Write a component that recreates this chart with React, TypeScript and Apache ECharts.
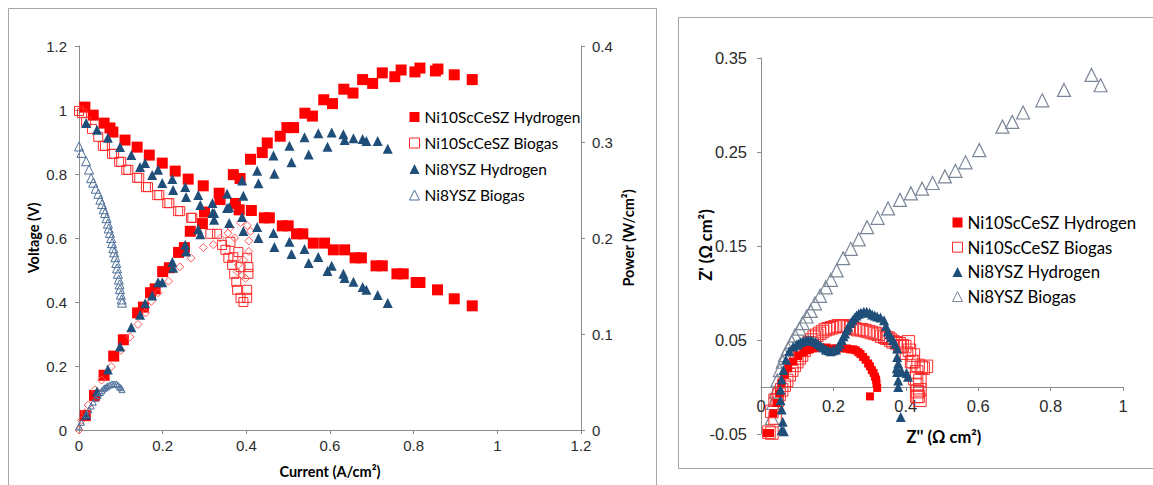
import React, { useEffect, useRef } from "react";
import * as echarts from "echarts";

// ---------- Left panel: current (A/cm2) vs voltage (V) and power (W/cm2) ----------
const legendNames = ["Ni10ScCeSZ Hydrogen", "Ni10ScCeSZ Biogas", "Ni8YSZ Hydrogen", "Ni8YSZ Biogas"];
const currentTicks = [0, 0.2, 0.4, 0.6, 0.8, 1, 1.2];

const scH2Volt = [[0.014,1.009],[0.034,0.984],[0.06,0.959],[0.074,0.944],[0.081,0.931],[0.11,0.906],[0.139,0.884],[0.168,0.859],[0.199,0.834],[0.23,0.809],[0.261,0.784],[0.297,0.763],[0.335,0.74],[0.374,0.708],[0.383,0.688],[0.412,0.686],[0.443,0.663],[0.455,0.663],[0.486,0.638],[0.5,0.638],[0.52,0.613],[0.535,0.613],[0.56,0.584],[0.587,0.584],[0.608,0.563],[0.635,0.563],[0.66,0.538],[0.675,0.538],[0.71,0.513],[0.725,0.513],[0.76,0.488],[0.775,0.488],[0.806,0.461],[0.815,0.461],[0.857,0.438],[0.897,0.41],[0.94,0.388]];
const scH2Power = [[0.015,0.015],[0.037,0.036],[0.06,0.057],[0.083,0.077],[0.106,0.094],[0.14,0.122],[0.154,0.128],[0.171,0.143],[0.182,0.147],[0.2,0.165],[0.216,0.169],[0.238,0.185],[0.252,0.19],[0.266,0.207],[0.295,0.215],[0.3,0.227],[0.337,0.24],[0.369,0.266],[0.385,0.262],[0.41,0.282],[0.438,0.289],[0.45,0.299],[0.481,0.306],[0.497,0.315],[0.513,0.315],[0.54,0.33],[0.558,0.327],[0.585,0.344],[0.606,0.34],[0.633,0.355],[0.655,0.351],[0.678,0.365],[0.702,0.361],[0.725,0.372],[0.755,0.368],[0.77,0.375],[0.803,0.373],[0.815,0.377],[0.852,0.374],[0.858,0.376],[0.897,0.37],[0.94,0.365]];

const scBioVolt = [[0,0.997],[0.007,0.99],[0.017,0.963],[0.031,0.941],[0.046,0.916],[0.057,0.888],[0.062,0.888],[0.079,0.863],[0.084,0.863],[0.096,0.838],[0.101,0.838],[0.113,0.813],[0.118,0.813],[0.139,0.788],[0.144,0.788],[0.16,0.759],[0.165,0.759],[0.187,0.734],[0.192,0.734],[0.211,0.709],[0.216,0.709],[0.237,0.684],[0.242,0.684],[0.268,0.663],[0.271,0.663],[0.314,0.613],[0.33,0.613],[0.342,0.578],[0.35,0.563],[0.362,0.588],[0.357,0.538],[0.369,0.54],[0.366,0.516],[0.381,0.556],[0.371,0.488],[0.386,0.509],[0.402,0.538],[0.405,0.509],[0.405,0.488],[0.376,0.463],[0.378,0.438],[0.402,0.438],[0.386,0.413],[0.393,0.4],[0.402,0.413]];
const scBioPower = [[0,0],[0.006,0.01],[0.014,0.018],[0.022,0.026],[0.038,0.042],[0.054,0.052],[0.077,0.066],[0.1,0.083],[0.122,0.097],[0.141,0.11],[0.159,0.122],[0.173,0.134],[0.189,0.143],[0.214,0.155],[0.241,0.17],[0.268,0.179],[0.297,0.19],[0.321,0.193],[0.338,0.2],[0.362,0.211],[0.386,0.216],[0.402,0.213],[0.41,0.207],[0.406,0.197],[0.406,0.186],[0.393,0.177],[0.381,0.172],[0.378,0.165],[0.39,0.161],[0.398,0.158],[0.372,0.2],[0.356,0.205]];

const ysH2Volt = [[0.017,0.959],[0.043,0.938],[0.069,0.913],[0.098,0.884],[0.125,0.859],[0.146,0.822],[0.158,0.834],[0.175,0.797],[0.189,0.813],[0.199,0.772],[0.223,0.784],[0.225,0.75],[0.254,0.759],[0.256,0.728],[0.285,0.734],[0.29,0.703],[0.319,0.709],[0.323,0.678],[0.354,0.694],[0.359,0.647],[0.39,0.666],[0.393,0.622],[0.426,0.634],[0.429,0.6],[0.465,0.616],[0.467,0.572],[0.503,0.588],[0.508,0.55],[0.539,0.566],[0.549,0.522],[0.572,0.541],[0.594,0.497],[0.604,0.513],[0.632,0.488],[0.635,0.475],[0.656,0.463],[0.678,0.447],[0.687,0.438],[0.714,0.422],[0.738,0.397]];
const ysH2Power = [[0.017,0.016],[0.043,0.04],[0.069,0.063],[0.098,0.087],[0.125,0.107],[0.146,0.12],[0.158,0.132],[0.175,0.14],[0.189,0.154],[0.199,0.154],[0.223,0.175],[0.225,0.169],[0.254,0.193],[0.256,0.186],[0.285,0.209],[0.29,0.204],[0.319,0.226],[0.323,0.219],[0.354,0.246],[0.359,0.232],[0.39,0.26],[0.393,0.244],[0.426,0.27],[0.429,0.257],[0.465,0.286],[0.467,0.267],[0.503,0.296],[0.508,0.279],[0.539,0.305],[0.549,0.287],[0.572,0.309],[0.594,0.295],[0.604,0.31],[0.632,0.308],[0.635,0.302],[0.656,0.304],[0.678,0.303],[0.687,0.301],[0.714,0.301],[0.738,0.293]];

const ysBioVolt = [[0,0.886],[0.006,0.866],[0.017,0.84],[0.024,0.814],[0.029,0.787],[0.034,0.773],[0.04,0.754],[0.046,0.738],[0.051,0.72],[0.055,0.706],[0.059,0.69],[0.062,0.678],[0.066,0.662],[0.069,0.645],[0.071,0.63],[0.074,0.616],[0.077,0.6],[0.079,0.584],[0.082,0.568],[0.084,0.555],[0.087,0.54],[0.089,0.522],[0.091,0.505],[0.093,0.488],[0.095,0.47],[0.097,0.455],[0.098,0.44],[0.1,0.423],[0.102,0.408],[0.103,0.398]];
const ysBioPower = [[0,0.004],[0.006,0.008],[0.017,0.016],[0.024,0.021],[0.029,0.025],[0.034,0.029],[0.04,0.033],[0.046,0.036],[0.051,0.039],[0.055,0.041],[0.059,0.043],[0.062,0.044],[0.066,0.045],[0.069,0.046],[0.074,0.047],[0.079,0.048],[0.084,0.048],[0.089,0.048],[0.093,0.047],[0.097,0.045],[0.1,0.044],[0.103,0.042]];

// ---------- Right panel: impedance, Z'' (x) vs Z' (y) ----------
const nyqScH2 = [[0.016,-0.049],[0.025,-0.049],[0.034,-0.028],[0.043,-0.017],[0.05,-0.007],[0.057,0.004],[0.066,0.013],[0.075,0.02],[0.089,0.027],[0.103,0.033],[0.117,0.037],[0.125,0.039],[0.135,0.04],[0.145,0.041],[0.154,0.042],[0.165,0.042],[0.181,0.042],[0.195,0.041],[0.209,0.041],[0.223,0.041],[0.237,0.041],[0.246,0.04],[0.255,0.04],[0.262,0.039],[0.269,0.037],[0.275,0.035],[0.282,0.032],[0.289,0.029],[0.296,0.025],[0.301,0.022],[0.306,0.018],[0.311,0.015],[0.315,0.011],[0.318,0.008],[0.319,0.004],[0.321,-0.001],[0.301,-0.01]];
const nyqScBio = [[0.022,-0.048],[0.03,-0.049],[0.034,-0.051],[0.03,-0.026],[0.039,-0.033],[0.039,-0.014],[0.045,-0.014],[0.05,-0.008],[0.057,-0.003],[0.064,0.002],[0.071,0.007],[0.078,0.013],[0.085,0.018],[0.092,0.023],[0.099,0.027],[0.106,0.031],[0.112,0.034],[0.119,0.039],[0.126,0.043],[0.133,0.047],[0.14,0.05],[0.147,0.053],[0.154,0.055],[0.162,0.057],[0.17,0.059],[0.178,0.061],[0.186,0.062],[0.195,0.063],[0.204,0.064],[0.213,0.065],[0.223,0.065],[0.232,0.065],[0.241,0.064],[0.25,0.063],[0.259,0.062],[0.268,0.061],[0.278,0.061],[0.287,0.06],[0.296,0.059],[0.305,0.058],[0.315,0.057],[0.324,0.056],[0.333,0.054],[0.342,0.053],[0.347,0.052],[0.352,0.052],[0.358,0.05],[0.365,0.048],[0.374,0.047],[0.382,0.046],[0.384,0.043],[0.39,0.044],[0.397,0.043],[0.402,0.036],[0.407,0.048],[0.41,0.039],[0.421,0.034],[0.42,0.027],[0.416,0.027],[0.434,0.023],[0.443,0.021],[0.448,0.02],[0.457,0.022],[0.43,0.016],[0.425,0.009],[0.439,0.007],[0.43,0.002],[0.439,-0.003],[0.432,-0.005],[0.434,-0.01],[0.43,-0.01],[0.439,-0.014]];
const nyqYsH2 = [[0.063,-0.047],[0.057,-0.046],[0.06,-0.037],[0.057,-0.024],[0.054,-0.014],[0.054,-0.003],[0.057,0.008],[0.062,0.018],[0.069,0.029],[0.078,0.038],[0.089,0.043],[0.098,0.045],[0.103,0.046],[0.11,0.048],[0.117,0.049],[0.124,0.05],[0.131,0.05],[0.138,0.05],[0.144,0.049],[0.151,0.048],[0.158,0.046],[0.165,0.044],[0.172,0.042],[0.179,0.04],[0.186,0.039],[0.193,0.038],[0.2,0.039],[0.207,0.04],[0.213,0.043],[0.218,0.046],[0.223,0.05],[0.228,0.054],[0.232,0.057],[0.237,0.061],[0.241,0.064],[0.247,0.068],[0.253,0.071],[0.259,0.074],[0.264,0.076],[0.27,0.078],[0.276,0.079],[0.284,0.08],[0.292,0.08],[0.3,0.079],[0.307,0.077],[0.314,0.076],[0.321,0.075],[0.33,0.074],[0.34,0.071],[0.345,0.065],[0.35,0.059],[0.355,0.056],[0.359,0.053],[0.365,0.05],[0.37,0.046],[0.376,0.041],[0.376,0.032],[0.379,0.025],[0.375,0.02],[0.376,0.016],[0.388,0.017],[0.402,0.015],[0.406,0.011],[0.379,0.007],[0.379,0],[0.386,-0.032]];
const nyqYsBio = [[0.03,-0.033],[0.034,-0.017],[0.04,-0.005],[0.045,0.007],[0.052,0.018],[0.06,0.027],[0.066,0.034],[0.075,0.041],[0.085,0.048],[0.094,0.055],[0.106,0.062],[0.115,0.068],[0.126,0.075],[0.137,0.081],[0.149,0.089],[0.163,0.097],[0.179,0.106],[0.193,0.114],[0.209,0.124],[0.227,0.137],[0.248,0.147],[0.27,0.157],[0.293,0.17],[0.322,0.18],[0.351,0.19],[0.384,0.199],[0.414,0.206],[0.445,0.211],[0.474,0.217],[0.508,0.224],[0.537,0.23],[0.565,0.239],[0.603,0.252],[0.667,0.277],[0.694,0.282],[0.724,0.292],[0.777,0.305],[0.837,0.316],[0.913,0.332],[0.938,0.321]];

const RED = "#ff0000";
const RED_LINE = "#ff2a2a";
const RED_DIAMOND = "#ff5a5a";
const BLUE = "#1f4e79";
const BLUE_HOLLOW = "#4d6f99";
const GRAY_HOLLOW = "#7a8697";
const AXIS = "#8c8c8c";
const TICK_TEXT = "#2b2b2b";
const HOLLOW = "rgba(0,0,0,0)";

const fmt1 = (v: number) => String(+v.toFixed(1));
const fmt2 = (v: number) => v.toFixed(2);

function axisCommon(fontSize: number, margin: number) {
  return {
    axisLine: { show: true, lineStyle: { color: AXIS, width: 1 } },
    axisTick: { show: true, length: 4, inside: false, lineStyle: { color: AXIS } },
    splitLine: { show: false },
    axisLabel: { color: TICK_TEXT, fontSize, fontFamily: "Liberation Sans, Arial, sans-serif", margin },
  };
}

function scatter(name: string, data: number[][], xi: number, yi: number, symbol: string, size: number, fill: string, stroke: string, bw: number, z: number) {
  return {
    type: "scatter",
    name,
    data,
    xAxisIndex: xi,
    yAxisIndex: yi,
    symbol,
    symbolSize: size,
    z,
    itemStyle: { color: fill, borderColor: stroke, borderWidth: bw, opacity: 1 },
    emphasis: { disabled: true },
  };
}

function legendData(big: boolean) {
  return [
    { name: legendNames[0], icon: "rect", itemStyle: { color: RED, borderWidth: 0 } },
    { name: legendNames[1], icon: "rect", itemStyle: { color: HOLLOW, borderColor: RED_LINE, borderWidth: 1 } },
    { name: legendNames[2], icon: "triangle", itemStyle: { color: BLUE, borderWidth: 0 } },
    { name: legendNames[3], icon: "triangle", itemStyle: { color: HOLLOW, borderColor: big ? GRAY_HOLLOW : BLUE_HOLLOW, borderWidth: 1 } },
  ];
}

function titleText(text: string, x: number, y: number, size: number, rotate: boolean) {
  return {
    type: "text",
    x,
    y,
    rotation: rotate ? Math.PI / 2 : 0,
    style: {
      text,
      fill: "#000",
      font: `bold ${size}px Lato, "Liberation Sans", sans-serif`,
      textAlign: "center",
      textVerticalAlign: "middle",
      align: "center",
      verticalAlign: "middle",
    },
  };
}

export default function App() {
  const ref = useRef<HTMLDivElement>(null);
  useEffect(() => {
    if (!ref.current) return;
    const chart = echarts.init(ref.current, null, { renderer: "svg" });
    const option: any = {
      animation: false,
      backgroundColor: "#fff",
      grid: [
        { left: 79, top: 46, width: 502, height: 384, containLabel: false },
        { left: 761, top: 58, width: 362, height: 376, containLabel: false },
      ],
      xAxis: [
        {
          type: "value", gridIndex: 0, min: currentTicks[0], max: currentTicks[currentTicks.length - 1], interval: 0.2,
          ...axisCommon(15, 8),
          axisLine: { show: true, onZero: false, lineStyle: { color: AXIS } },
          axisLabel: { ...axisCommon(15, 8).axisLabel, formatter: fmt1 },
        },
        {
          type: "value", gridIndex: 1, min: 0, max: 1, interval: 0.2,
          offset: -47,
          ...axisCommon(16.5, 10),
          axisLine: { show: true, onZero: false, lineStyle: { color: AXIS } },
          axisLabel: { ...axisCommon(16.5, 10).axisLabel, formatter: fmt1 },
        },
      ],
      yAxis: [
        {
          type: "value", gridIndex: 0, min: 0, max: 1.2, interval: 0.2, position: "left",
          ...axisCommon(15, 12),
          axisLabel: { ...axisCommon(15, 12).axisLabel, formatter: fmt1 },
        },
        {
          type: "value", gridIndex: 0, min: 0, max: 0.4, interval: 0.1, position: "right",
          ...axisCommon(15, 11),
          axisLabel: { ...axisCommon(15, 11).axisLabel, formatter: fmt1 },
        },
        {
          type: "value", gridIndex: 1, min: -0.05, max: 0.35, interval: 0.1, position: "left",
          ...axisCommon(16.5, 14),
          axisLabel: { ...axisCommon(16.5, 14).axisLabel, formatter: fmt2 },
        },
      ],
      legend: [
        {
          orient: "vertical", left: 404, top: 104, itemWidth: 10, itemHeight: 10, itemGap: 10,
          selectedMode: false,
          textStyle: { fontSize: 15.5, fontFamily: "Lato, sans-serif", color: "#000", lineHeight: 16 },
          data: legendData(false),
        },
        {
          orient: "vertical", left: 947, top: 209, itemWidth: 10, itemHeight: 10, itemGap: 7.7,
          selectedMode: false,
          textStyle: { fontSize: 16.8, fontFamily: "Lato, sans-serif", color: "#000", lineHeight: 17 },
          data: legendData(true),
        },
      ],
      graphic: [
        { type: "rect", shape: { x: 8.5, y: 8.5, width: 648, height: 500 }, style: { fill: "none", stroke: "#a6a6a6", lineWidth: 1 }, silent: true },
        { type: "rect", shape: { x: 678.5, y: 17.5, width: 500, height: 451 }, style: { fill: "none", stroke: "#a6a6a6", lineWidth: 1 }, silent: true },
        titleText("Voltage (V)", 33, 238, 14.5, true),
        titleText("Current (A/cm²)", 330, 471, 14.5, false),
        titleText("Power (W/cm²)", 628, 238, 14.5, true),
        titleText("Z' (Ω cm²)", 706, 245, 16.5, true),
        titleText("Z'' (Ω cm²)", 944, 437, 16.5, false),
      ],
      series: [
        scatter(legendNames[0], scH2Volt, 0, 0, "rect", 11, RED, RED, 0, 2),
        scatter(legendNames[0], scH2Power, 0, 1, "rect", 11, RED, RED, 0, 2),
        scatter(legendNames[1], scBioVolt, 0, 0, "rect", 9, HOLLOW, RED_LINE, 1, 3),
        scatter(legendNames[1], scBioPower, 0, 1, "diamond", 8, HOLLOW, RED_DIAMOND, 1, 3),
        scatter(legendNames[2], ysH2Volt, 0, 0, "triangle", 10, BLUE, BLUE, 0, 4),
        scatter(legendNames[2], ysH2Power, 0, 1, "triangle", 10, BLUE, BLUE, 0, 4),
        scatter(legendNames[3], ysBioVolt, 0, 0, "triangle", 9, HOLLOW, BLUE_HOLLOW, 1, 5),
        scatter(legendNames[3], ysBioPower, 0, 1, "triangle", 6, HOLLOW, BLUE_HOLLOW, 1, 5),
        scatter(legendNames[3], nyqYsBio, 1, 2, "triangle", 13, HOLLOW, GRAY_HOLLOW, 1.2, 2),
        scatter(legendNames[1], nyqScBio, 1, 2, "rect", 12.5, HOLLOW, RED_LINE, 1, 3),
        scatter(legendNames[0], nyqScH2, 1, 2, "rect", 8, RED, RED, 0, 4),
        scatter(legendNames[2], nyqYsH2, 1, 2, "triangle", 10, BLUE, BLUE, 0, 5),
      ],
    };
    chart.setOption(option);
    return () => chart.dispose();
  }, []);
  return (
    <div
      ref={ref}
      style={{ position: "absolute", left: 0, top: 0, width: 1153, height: 485, background: "#fff" }}
    />
  );
}
